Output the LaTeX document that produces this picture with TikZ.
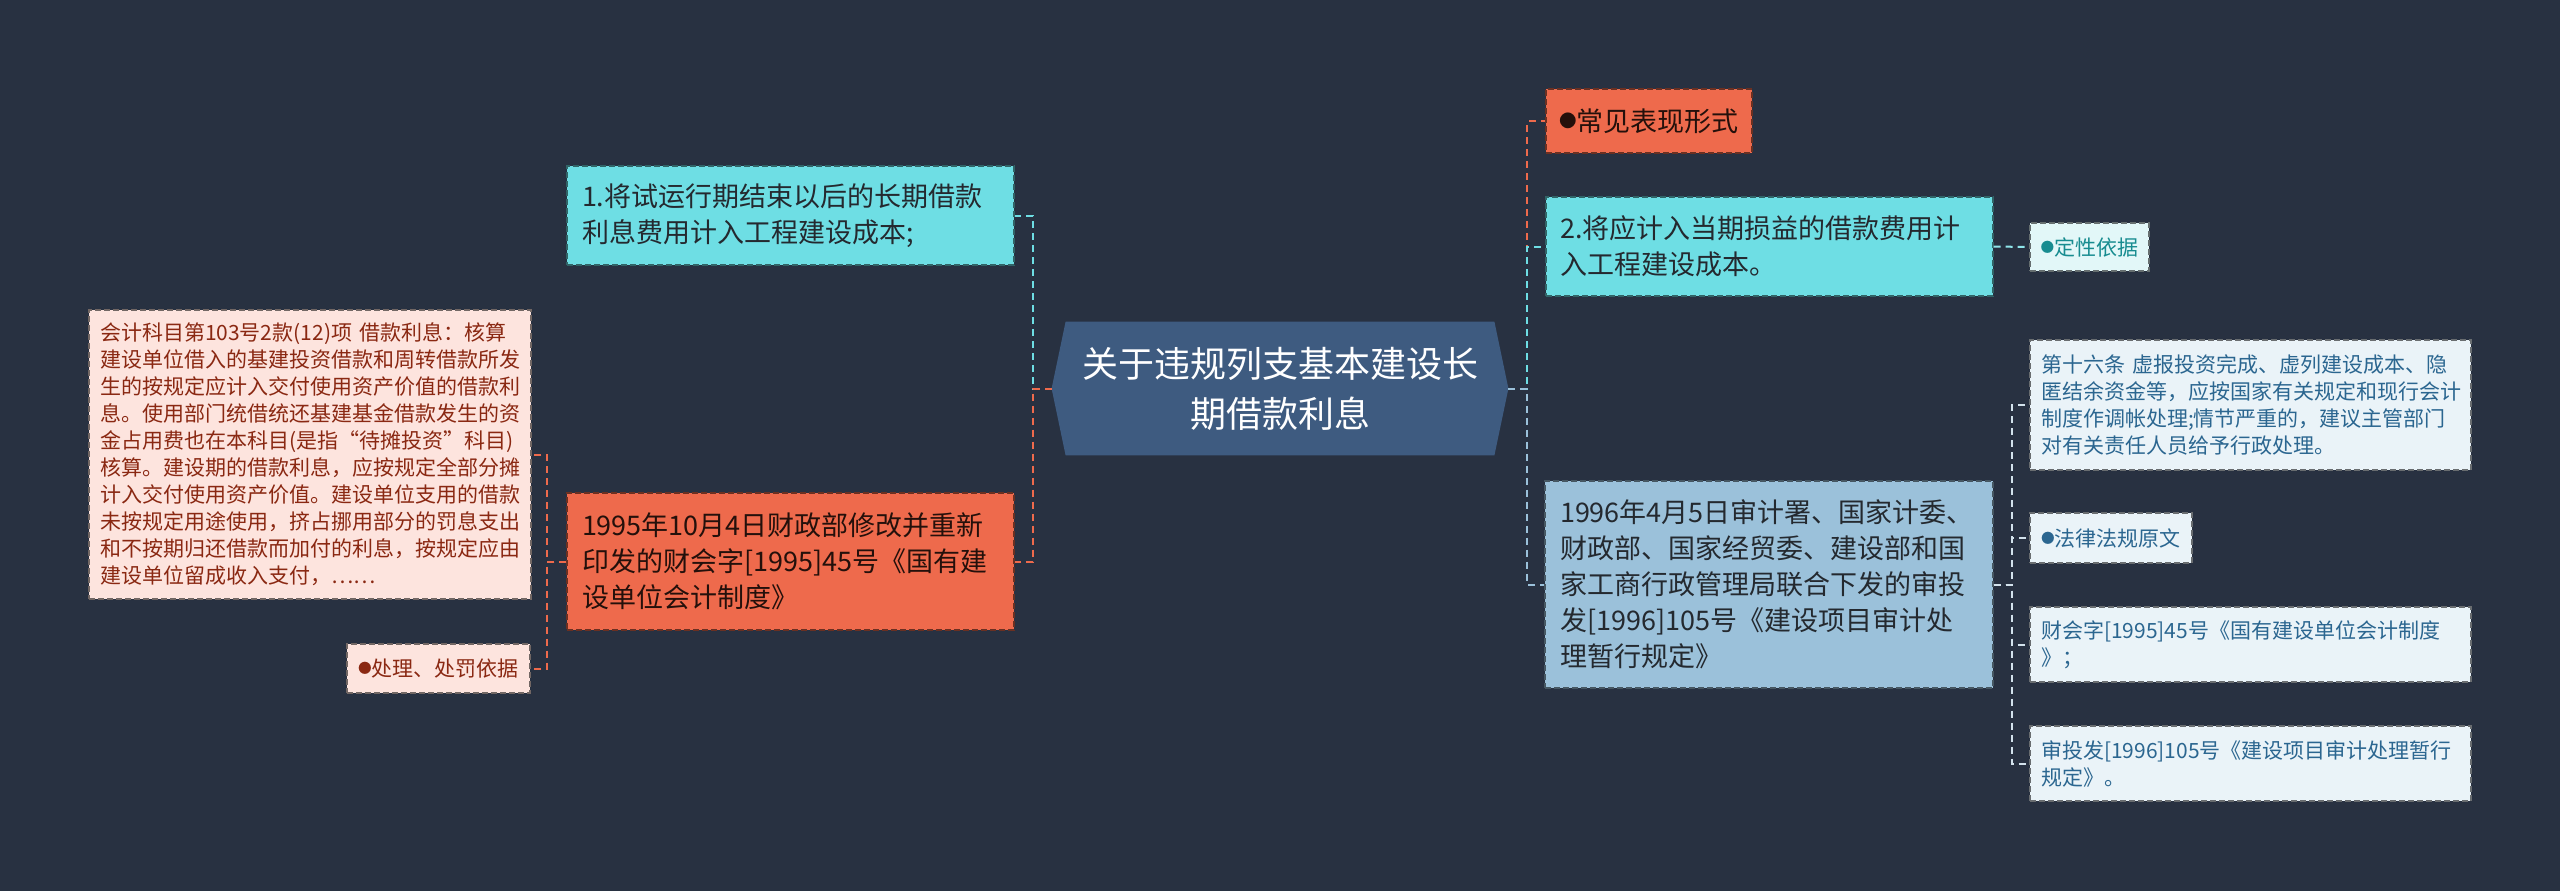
\documentclass[tikz,border=0pt]{standalone}
\usepackage{fontspec}
\setmainfont{Noto Sans CJK SC}
\usetikzlibrary{backgrounds,calc}
\definecolor{bg}{HTML}{283141}
\definecolor{cmain}{HTML}{3E5B80}
\definecolor{ccyan}{HTML}{6EDEE4}
\definecolor{corange}{HTML}{EE6A4C}
\definecolor{clblue}{HTML}{9BC1DA}
\definecolor{cpink}{HTML}{FDE4DE}
\definecolor{tpink}{HTML}{8A2812}
\definecolor{cpcyan}{HTML}{E2F7F8}
\definecolor{tpcyan}{HTML}{178C90}
\definecolor{cpblue}{HTML}{EAF3F8}
\definecolor{tpblue}{HTML}{2B6690}
\definecolor{lpblue}{HTML}{D3E2EC}
\definecolor{lcyan}{HTML}{8FE6EB}
\definecolor{tdark}{HTML}{24292F}
\newcommand{\bul}{\raisebox{0.12em}{\scalebox{0.65}{●}}}
\begin{document}
\begin{tikzpicture}[x=0.5pt,y=-0.5pt,
  box/.style={rectangle, draw=#1!45!black, fill=#1, dash pattern=on 3pt off 1.5pt,
    line width=0.6pt, align=left, inner ysep=0pt, anchor=center},
  big/.style={font=\fontsize{13.5}{18}\selectfont, text=tdark},
  small/.style={font=\fontsize{10.5}{13.5}\selectfont},
  conn/.style={draw=#1, line width=1pt, dash pattern=on 3.5pt off 2.5pt}]
\begin{scope}[on background layer]
\fill[bg] (0,0) rectangle (2560,891);
\end{scope}
\useasboundingbox (0,0) rectangle (2560,891);

% central
\node[rectangle, minimum width=228pt, minimum height=66.5pt, inner sep=0pt, align=center,
  text=white, font=\fontsize{18}{25}\selectfont] (c) at (1280,388.5)
  {关于违规列支基本建设长\\期借款利息};
\begin{scope}[on background layer]
\fill[cmain] (c.west) -- ($(c.north west)+(14,0)$) -- ($(c.north east)+(-14,0)$) -- (c.east)
  -- ($(c.south east)+(-14,0)$) -- ($(c.south west)+(14,0)$) -- cycle;
\end{scope}

% left side
\node[box=ccyan, big, minimum width=223.5pt, minimum height=49.5pt, inner xsep=7.5pt, text width=208.5pt] (n1) at (790.5,215.5)
  {1.将试运行期结束以后的长期借款\\利息费用计入工程建设成本;};
\node[box=corange, big, text=black!85!corange, minimum width=223.5pt, minimum height=68.5pt, inner xsep=7.5pt, text width=208.5pt] (n2) at (790.5,561.5)
  {1995年10月4日财政部修改并重新\\印发的财会字[1995]45号《国有建\\设单位会计制度》};
\node[box=cpink, small, text=tpink, minimum width=221pt, minimum height=144.5pt, inner xsep=5.5pt, text width=210pt] (pk) at (310,454.5)
  {会计科目第103号2款(12)项~借款利息：核算\\建设单位借入的基建投资借款和周转借款所发\\生的按规定应计入交付使用资产价值的借款利\\息。使用部门统借统还基建基金借款发生的资\\金占用费也在本科目(是指“待摊投资”科目)\\核算。建设期的借款利息，应按规定全部分摊\\计入交付使用资产价值。建设单位支用的借款\\未按规定用途使用，挤占挪用部分的罚息支出\\和不按期归还借款而加付的利息，按规定应由\\建设单位留成收入支付，……};
\node[box=cpink, small, text=tpink, minimum width=91.5pt, minimum height=24.5pt, inner xsep=0pt] (pk2) at (438.5,668.5)
  {\bul 处理、处罚依据};

% right side
\node[box=corange, big, text=black!85!corange, minimum width=103pt, minimum height=32pt, inner xsep=0pt] (r1) at (1649,121)
  {\bul 常见表现形式};
\node[box=ccyan, big, minimum width=223.5pt, minimum height=49.5pt, inner xsep=7pt, text width=209.5pt] (r2) at (1769.5,246.5)
  {2.将应计入当期损益的借款费用计\\入工程建设成本。};
\node[box=clblue, big, minimum width=224pt, minimum height=103.5pt, inner xsep=7.5pt, text width=209pt] (r3) at (1769,584.5)
  {1996年4月5日审计署、国家计委、\\财政部、国家经贸委、建设部和国\\家工商行政管理局联合下发的审投\\发[1996]105号《建设项目审计处\\理暂行规定》};
\node[box=cpcyan, small, text=tpcyan, minimum width=59.5pt, minimum height=24pt, inner xsep=0pt] (d1) at (2089.5,247)
  {\bul 定性依据};
\node[box=cpblue, small, text=tpblue, minimum width=220.5pt, minimum height=65pt, inner xsep=5.5pt, text width=209.5pt] (f1) at (2250.5,405)
  {第十六条~虚报投资完成、虚列建设成本、隐\\匿结余资金等，应按国家有关规定和现行会计\\制度作调帐处理;情节严重的，建议主管部门\\对有关责任人员给予行政处理。};
\node[box=cpblue, small, text=tpblue, minimum width=81pt, minimum height=25pt, inner xsep=0pt] (f2) at (2111,538)
  {\bul 法律法规原文};
\node[box=cpblue, small, text=tpblue, minimum width=220.5pt, minimum height=37.5pt, inner xsep=5.5pt, text width=209.5pt] (f3) at (2250.5,644.5)
  {财会字[1995]45号《国有建设单位会计制度\\》；};
\node[box=cpblue, small, text=tpblue, minimum width=220.5pt, minimum height=37.5pt, inner xsep=5.5pt, text width=209.5pt] (f4) at (2250.5,763.5)
  {审投发[1996]105号《建设项目审计处理暂行\\规定》。};

% connectors left
\draw[conn=ccyan] (c.west) -- ++(-19,0) |- (n1.east);
\draw[conn=corange] (c.west) -- ++(-19,0) |- (n2.east);
\draw[conn=corange] (n2.west) -- ++(-19,0) |- (pk.east);
\draw[conn=corange] (n2.west) -- ++(-19,0) |- (pk2.east);
% connectors right
\draw[conn=corange] (c.east) -- ++(19,0) |- (r1.west);
\draw[conn=ccyan] (c.east) -- ++(19,0) |- (r2.west);
\draw[conn=clblue] (c.east) -- ++(19,0) |- (r3.west);
\draw[conn=lcyan] (r2.east) -- (d1.west);
\draw[conn=lpblue] (r3.east) -- ++(18,0) |- (f1.west);
\draw[conn=lpblue] (r3.east) -- ++(18,0) |- (f2.west);
\draw[conn=lpblue] (r3.east) -- ++(18,0) |- (f3.west);
\draw[conn=lpblue] (r3.east) -- ++(18,0) |- (f4.west);
\end{tikzpicture}
\end{document}
